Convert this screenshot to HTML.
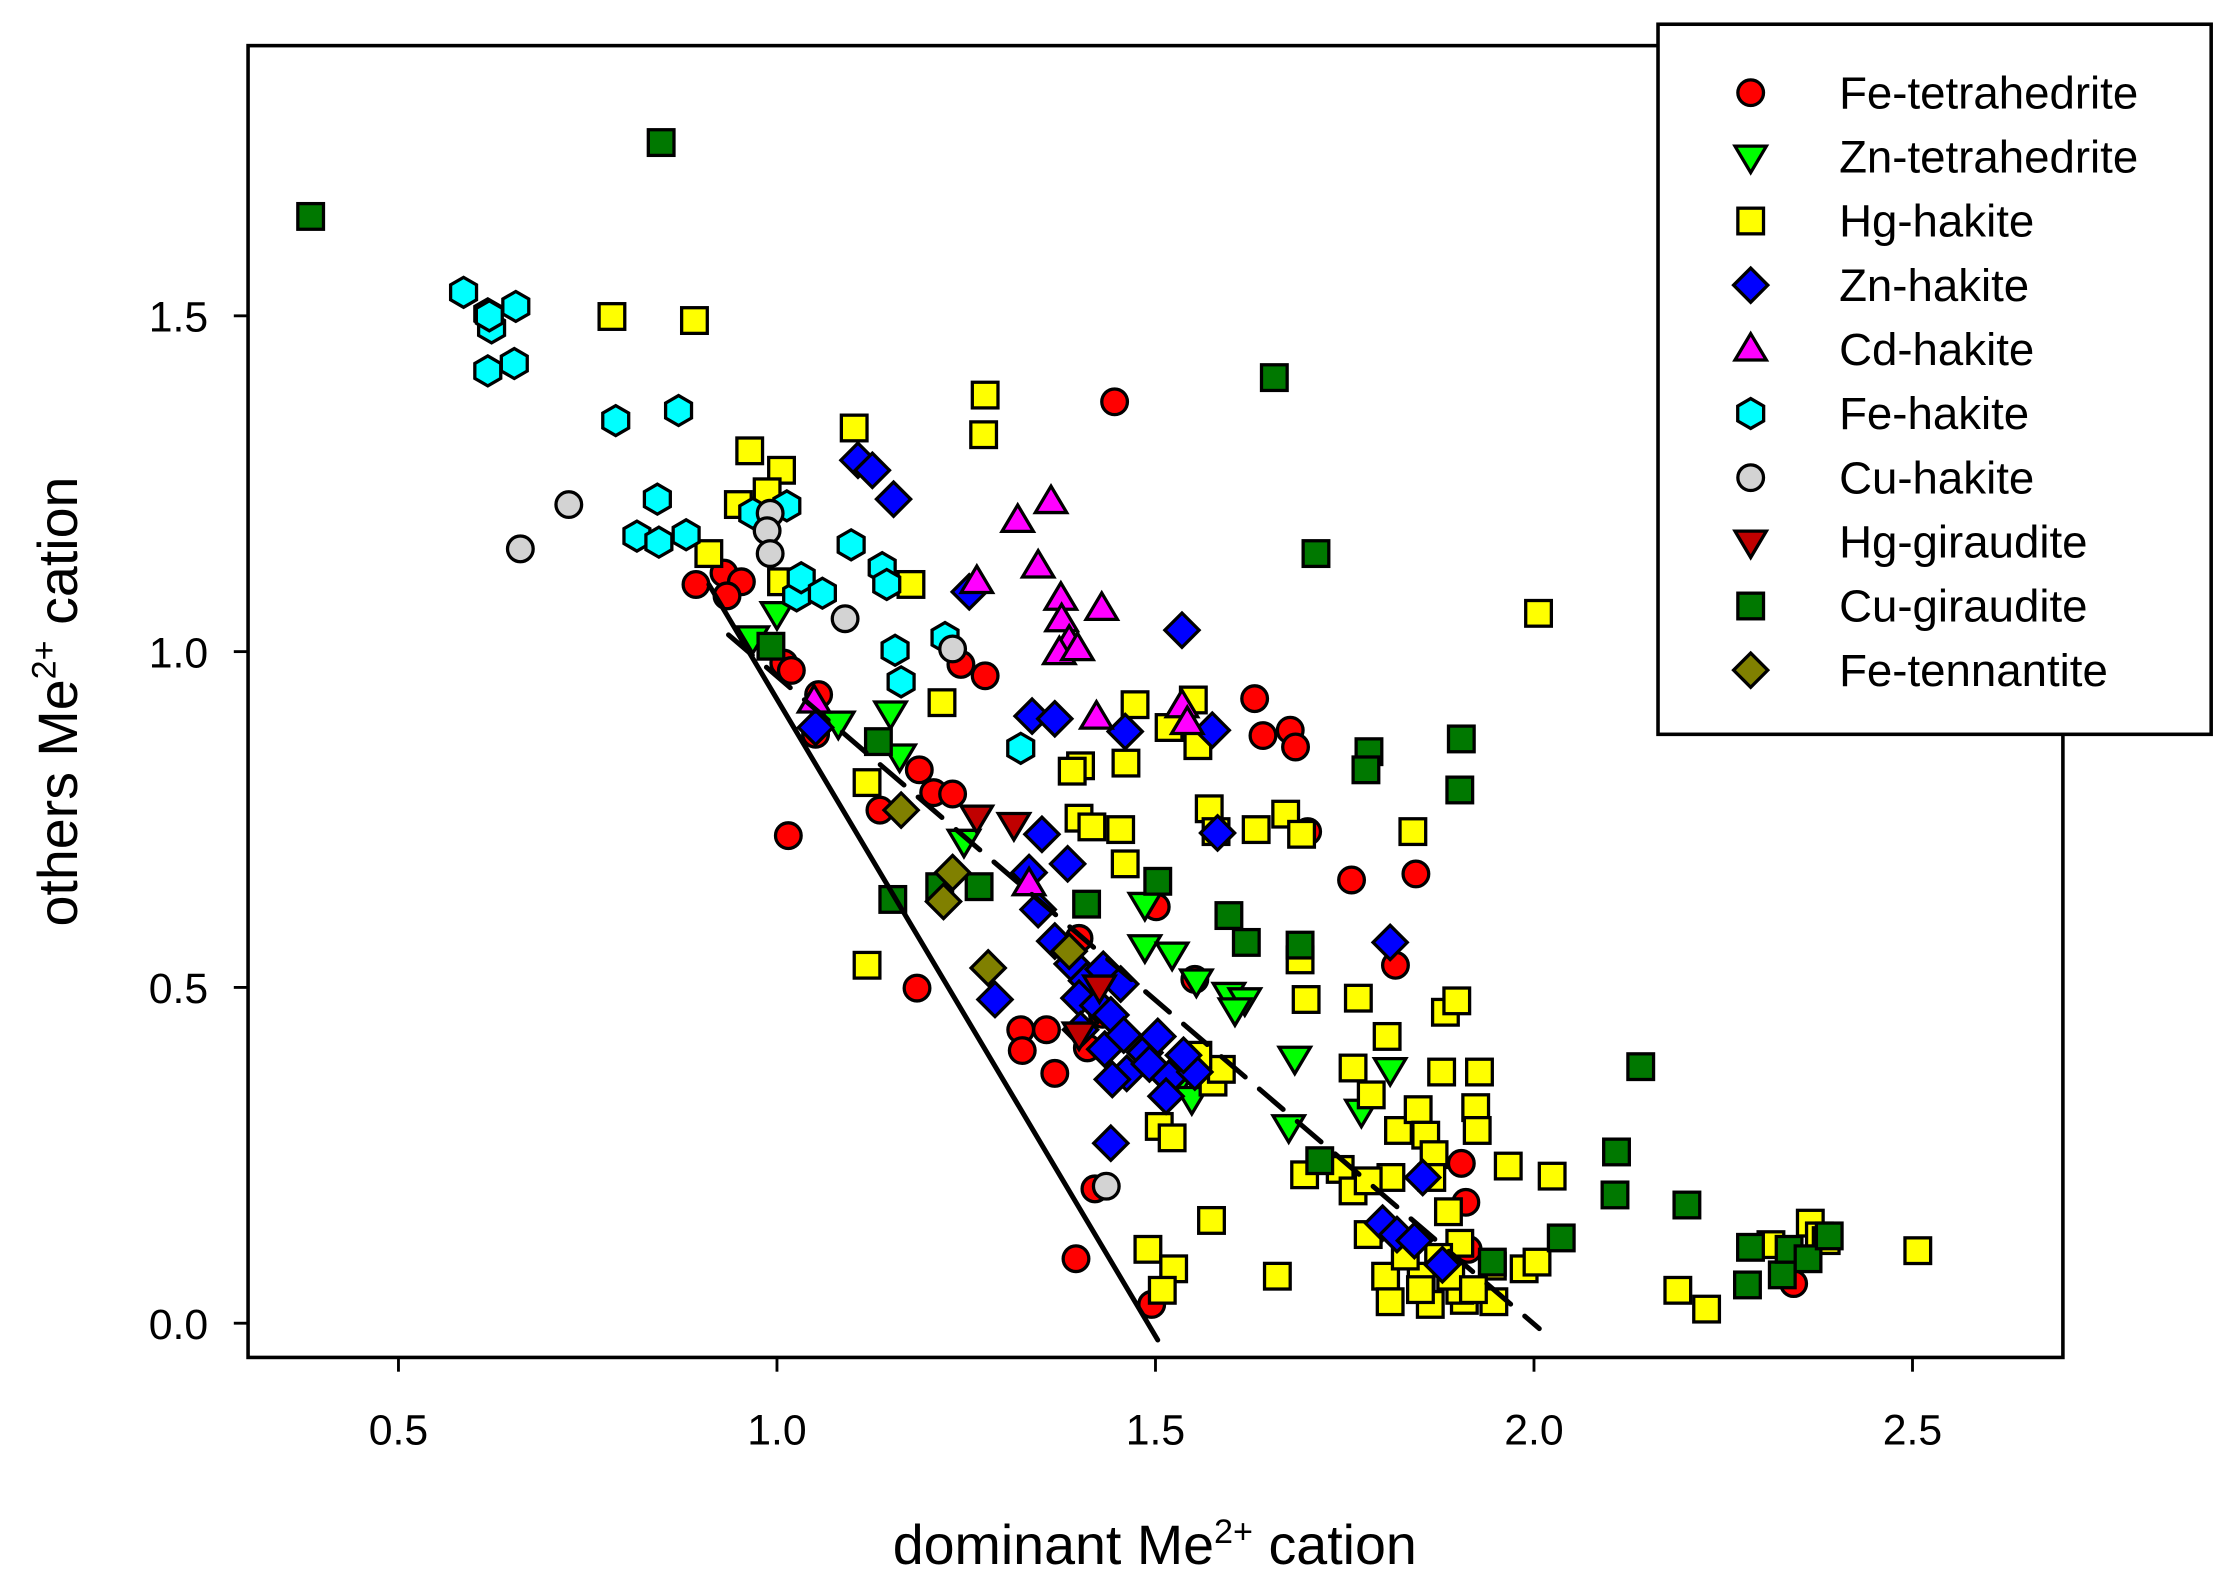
<!DOCTYPE html>
<html><head><meta charset="utf-8"><style>
html,body{margin:0;padding:0;background:#fff;}
svg{display:block;}
text{font-family:"Liberation Sans",Arial,sans-serif;fill:#000;}
</style></head>
<body>
<svg id="chart" width="2224" height="1587" viewBox="0 0 1560 1113" preserveAspectRatio="none" xmlns="http://www.w3.org/2000/svg">
<rect x="174" y="32" width="1273" height="920" fill="#fff" stroke="#000" stroke-width="2.5"/>
<g id="marks"></g>
<g id="axes"></g>
<text x="810" y="1097" font-size="39" text-anchor="middle">dominant Me<tspan dy="-15" font-size="24">2+</tspan><tspan dy="15"> cation</tspan></text>
<text transform="translate(54,492) rotate(-90)" font-size="39" text-anchor="middle">others Me<tspan dy="-15" font-size="24">2+</tspan><tspan dy="15"> cation</tspan></text>
<g id="legend">
<rect x="1163" y="17" width="388" height="498" fill="#fff" stroke="#000" stroke-width="2.5"/>
</g>
</svg>
<script>
const xTicks = [0.5, 1.0, 1.5, 2.0, 2.5];
const yTicks = [0.0, 0.5, 1.0, 1.5];
const seriesNames = ["Fe-tetrahedrite","Zn-tetrahedrite","Hg-hakite","Zn-hakite","Cd-hakite","Fe-hakite","Cu-hakite","Hg-giraudite","Cu-giraudite","Fe-tennantite"];
const solidLine = [[0.91,1.10],[1.503,-0.025]];
const dashedLine = [[0.936,1.025],[2.007,-0.008]];

const feTetrahedrite = [[1.446,1.372],[0.893,1.100],[0.930,1.117],[0.953,1.104],[0.934,1.083],[1.009,0.983],[1.019,0.972],[1.055,0.936],[1.051,0.877],[1.015,0.726],[1.136,0.764],[1.188,0.824],[1.207,0.790],[1.232,0.788],[1.243,0.981],[1.275,0.964],[1.185,0.499],[1.322,0.437],[1.324,0.406],[1.356,0.437],[1.367,0.372],[1.399,0.573],[1.420,0.200],[1.395,0.096],[1.501,0.620],[1.495,0.028],[1.631,0.930],[1.642,0.875],[1.678,0.883],[1.685,0.858],[1.701,0.732],[1.759,0.660],[1.844,0.669],[1.817,0.533],[1.904,0.238],[1.910,0.180],[1.913,0.110],[2.343,0.059],[1.552,0.512],[1.41,0.41],[1.43,0.46]];
const znTetrahedrite = [[0.968,1.021],[1.000,1.057],[1.081,0.894],[1.150,0.909],[1.162,0.845],[1.247,0.718],[1.486,0.624],[1.486,0.561],[1.522,0.550],[1.554,0.510],[1.597,0.490],[1.618,0.482],[1.605,0.467],[1.684,0.395],[1.772,0.316],[1.810,0.378],[1.676,0.293],[1.559,0.374],[1.527,0.352],[1.548,0.335]];
const hgHakite = [[0.782,1.499],[0.891,1.493],[1.102,1.333],[1.275,1.382],[1.273,1.323],[0.964,1.299],[1.006,1.270],[0.987,1.238],[0.949,1.219],[0.910,1.146],[1.006,1.104],[1.177,1.100],[1.218,0.924],[1.119,0.805],[1.119,0.533],[1.473,0.921],[1.550,0.928],[1.556,0.860],[1.518,0.887],[1.461,0.834],[1.401,0.830],[1.390,0.822],[1.399,0.752],[1.416,0.739],[1.454,0.735],[1.460,0.684],[1.571,0.766],[1.580,0.732],[1.633,0.735],[1.672,0.758],[1.693,0.728],[1.840,0.732],[2.006,1.057],[1.691,0.541],[1.699,0.482],[1.768,0.484],[1.806,0.427],[1.883,0.463],[1.898,0.480],[1.761,0.380],[1.785,0.340],[1.821,0.287],[1.847,0.318],[1.878,0.374],[1.928,0.374],[1.923,0.321],[1.925,0.287],[1.966,0.234],[2.024,0.219],[1.857,0.280],[1.868,0.251],[1.865,0.217],[1.811,0.217],[1.744,0.229],[1.697,0.221],[1.761,0.197],[1.781,0.212],[1.887,0.166],[1.902,0.119],[1.874,0.098],[1.851,0.070],[1.804,0.070],[1.810,0.032],[1.863,0.028],[1.908,0.034],[1.902,0.049],[1.947,0.032],[1.945,0.085],[1.987,0.081],[2.004,0.091],[2.190,0.049],[2.228,0.021],[2.365,0.149],[2.377,0.130],[2.386,0.123],[2.507,0.108],[2.313,0.117],[1.661,0.070],[1.490,0.110],[1.524,0.081],[1.509,0.049],[1.574,0.153],[1.505,0.293],[1.522,0.276],[1.576,0.359],[1.587,0.378],[1.556,0.399],[1.781,0.132],[1.83,0.10],[1.85,0.05],[1.89,0.07],[1.92,0.05]];
const znHakite = [[1.107,1.285],[1.126,1.270],[1.154,1.227],[1.254,1.089],[1.535,1.032],[1.051,0.887],[1.337,0.904],[1.367,0.900],[1.460,0.881],[1.575,0.883],[1.582,0.730],[1.350,0.728],[1.384,0.684],[1.333,0.671],[1.288,0.482],[1.810,0.567],[1.441,0.268],[1.853,0.217],[1.879,0.087],[1.367,0.569],[1.390,0.535],[1.409,0.510],[1.431,0.527],[1.454,0.505],[1.399,0.484],[1.424,0.473],[1.441,0.459],[1.401,0.437],[1.433,0.408],[1.458,0.429],[1.486,0.403],[1.503,0.427],[1.462,0.372],[1.443,0.363],[1.492,0.386],[1.518,0.365],[1.514,0.338],[1.552,0.374],[1.537,0.399],[1.345,0.616],[1.800,0.149],[1.819,0.132],[1.842,0.123]];
const cdHakite = [[1.049,0.926],[1.264,1.104],[1.318,1.195],[1.362,1.223],[1.345,1.127],[1.375,1.079],[1.376,1.047],[1.386,1.015],[1.373,0.998],[1.397,1.004],[1.429,1.064],[1.422,0.902],[1.535,0.919],[1.542,0.894],[1.333,0.654]];
const feHakite = [[0.586,1.535],[0.618,1.503],[0.623,1.482],[0.655,1.514],[0.618,1.418],[0.653,1.429],[0.787,1.344],[0.870,1.359],[0.842,1.227],[0.815,1.172],[0.844,1.163],[0.880,1.174],[0.968,1.206],[1.013,1.217],[1.098,1.159],[1.139,1.125],[1.145,1.100],[1.026,1.083],[1.032,1.110],[1.060,1.087],[1.156,1.002],[1.164,0.955],[1.222,1.021],[1.322,0.856],[0.62,1.50]];
const cuHakite = [[0.661,1.153],[0.725,1.219],[0.991,1.206],[0.987,1.180],[0.991,1.146],[1.090,1.049],[1.232,1.004],[1.435,0.204]];
const hgGiraudite = [[1.264,0.754],[1.313,0.743],[1.426,0.501],[1.399,0.431]];
const cuGiraudite = [[0.384,1.648],[0.847,1.758],[1.657,1.408],[1.712,1.146],[0.992,1.008],[1.134,0.866],[1.153,0.631],[1.215,0.650],[1.267,0.650],[1.409,0.624],[1.503,0.658],[1.597,0.607],[1.620,0.567],[1.691,0.563],[1.782,0.851],[1.778,0.824],[1.904,0.870],[1.902,0.794],[1.717,0.242],[2.141,0.382],[2.109,0.255],[2.107,0.191],[2.202,0.176],[2.036,0.127],[2.286,0.113],[2.282,0.057],[2.328,0.072],[2.337,0.110],[2.362,0.096],[2.390,0.130],[1.945,0.091]];
const feTennantite = [[1.164,0.764],[1.232,0.671],[1.220,0.628],[1.279,0.529],[1.386,0.554]];

const NS = "http://www.w3.org/2000/svg";
function sx(v){ return 14 + v * 531; }
function sy(v){ return 928 - v * 471; }

const styles = [
 {shape:"circle", fill:"#ff0000"},
 {shape:"tridown", fill:"#00ff00"},
 {shape:"square", fill:"#ffff00"},
 {shape:"diamond", fill:"#0000ff"},
 {shape:"triup", fill:"#ff00ff"},
 {shape:"hexagon", fill:"#00ffff"},
 {shape:"circle", fill:"#d3d3d3"},
 {shape:"tridown", fill:"#c00000"},
 {shape:"square", fill:"#007800"},
 {shape:"diamond", fill:"#808000"}
];
const allData = [feTetrahedrite, znTetrahedrite, hgHakite, znHakite, cdHakite, feHakite, cuHakite, hgGiraudite, cuGiraudite, feTennantite];

function makeMarker(shape, fill, cx, cy){
  let el;
  const r = 9;
  if(shape==="circle"){
    el = document.createElementNS(NS,"circle");
    el.setAttribute("cx",cx); el.setAttribute("cy",cy); el.setAttribute("r",r);
  } else if(shape==="square"){
    el = document.createElementNS(NS,"rect");
    el.setAttribute("x",cx-r); el.setAttribute("y",cy-r); el.setAttribute("width",2*r); el.setAttribute("height",2*r);
  } else {
    let pts;
    if(shape==="diamond") pts=[[0,-12],[12,0],[0,12],[-12,0]];
    else if(shape==="tridown") pts=[[-11,-7.5],[11,-7.5],[0,11]];
    else if(shape==="triup") pts=[[-11,7.5],[11,7.5],[0,-11]];
    else { pts=[]; for(let i=0;i<6;i++){const a=Math.PI/3*i+Math.PI/6; pts.push([10.5*Math.cos(a),10.5*Math.sin(a)]);} }
    el = document.createElementNS(NS,"polygon");
    el.setAttribute("points", pts.map(p=>(cx+p[0])+","+(cy+p[1])).join(" "));
  }
  el.setAttribute("fill",fill);
  el.setAttribute("stroke","#000");
  el.setAttribute("stroke-width","2.3");
  return el;
}

const marks = document.getElementById("marks");
allData.forEach((data, si)=>{
  const g = document.createElementNS(NS,"g");
  
  
  data.forEach(d=>{
    const m = makeMarker(styles[si].shape, styles[si].fill, sx(d[0]), sy(d[1]));
    
    
    g.appendChild(m);
  });
  marks.appendChild(g);
});

function addLine(pts, dashed, name){
  const l = document.createElementNS(NS,"line");
  l.setAttribute("x1",sx(pts[0][0])); l.setAttribute("y1",sy(pts[0][1]));
  l.setAttribute("x2",sx(pts[1][0])); l.setAttribute("y2",sy(pts[1][1]));
  l.setAttribute("stroke","#000"); l.setAttribute("stroke-width","3.5");
  l.setAttribute("stroke-linecap","round");
  if(dashed) l.setAttribute("stroke-dasharray","22 13");
  
  
  marks.appendChild(l);
}
addLine(solidLine, false, 'solid-reference-line');
addLine(dashedLine, true, 'dashed-reference-line');

const axes = document.getElementById("axes");
xTicks.forEach(v=>{
  const t = document.createElementNS(NS,"line");
  t.setAttribute("x1",sx(v)); t.setAttribute("x2",sx(v)); t.setAttribute("y1",952); t.setAttribute("y2",962);
  t.setAttribute("stroke","#000"); t.setAttribute("stroke-width","2");
  
  
  axes.appendChild(t);
  const tx = document.createElementNS(NS,"text");
  tx.setAttribute("x",sx(v)); tx.setAttribute("y",1013); tx.setAttribute("font-size","30"); tx.setAttribute("text-anchor","middle");
  tx.textContent = v.toFixed(1);
  
  
  axes.appendChild(tx);
});
yTicks.forEach(v=>{
  const t = document.createElementNS(NS,"line");
  t.setAttribute("x1",164); t.setAttribute("x2",174); t.setAttribute("y1",sy(v)); t.setAttribute("y2",sy(v));
  t.setAttribute("stroke","#000"); t.setAttribute("stroke-width","2");
  
  
  axes.appendChild(t);
  const tx = document.createElementNS(NS,"text");
  tx.setAttribute("x",146); tx.setAttribute("y",sy(v)+11); tx.setAttribute("font-size","30"); tx.setAttribute("text-anchor","end");
  tx.textContent = v.toFixed(1);
  
  
  axes.appendChild(tx);
});

const legend = document.getElementById("legend");
seriesNames.forEach((n,i)=>{
  const y = 65 + i*45;
  const g = document.createElementNS(NS,"g");
  
  
  g.appendChild(makeMarker(styles[i].shape, styles[i].fill, 1228, y));
  const tx = document.createElementNS(NS,"text");
  tx.setAttribute("x",1290); tx.setAttribute("y",y+11); tx.setAttribute("font-size","32");
  tx.textContent = n;
  g.appendChild(tx);
  legend.appendChild(g);
});
</script>
</body></html>
